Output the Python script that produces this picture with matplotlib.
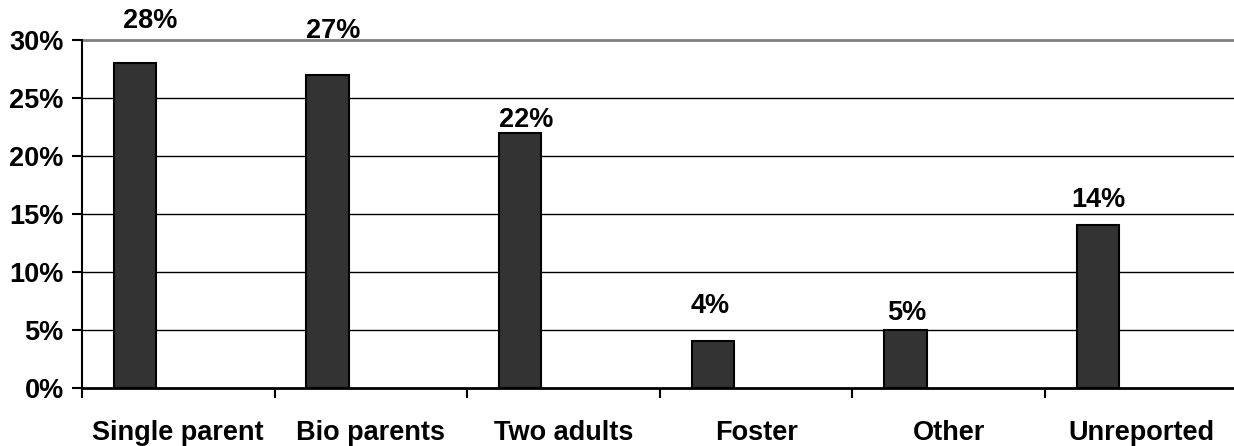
import matplotlib
matplotlib.use("Agg")
import matplotlib.pyplot as plt
from matplotlib.ticker import FixedLocator, FuncFormatter

categories = ["Single parent", "Bio parents", "Two adults", "Foster", "Other", "Unreported"]
shares = [28, 27, 22, 4, 5, 14]
y_ticks = [0, 5, 10, 15, 20, 25, 30]

# hand-placed value labels: (dx, dy) in points, baseline relative to the bar top centre
label_offsets = [(10.8, 25.2), (4.3, 26.5), (4.3, 4.1), (-2.2, 20.2), (0.7, 7.0), (0, 13.2)]

plt.rcParams["font.family"] = ["Liberation Sans", "DejaVu Sans"]
plt.rcParams["font.weight"] = "bold"
FS = 19.5

fig = plt.figure(figsize=(12.34, 4.46), dpi=100)
ax = fig.add_axes([82 / 1234, 1 - 387.7 / 446, 1 - 82 / 1234 + 0.003, (387.7 - 40) / 446])

xs = [i - 0.225 for i in range(len(categories))]
ax.bar(xs, shares, width=0.22, color="#333333", edgecolor="black", linewidth=1.5, zorder=3)

for x, v, (dx, dy) in zip(xs, shares, label_offsets):
    ax.annotate(f"{v}%", (x, v), xytext=(dx, dy), textcoords="offset points",
                ha="center", va="baseline", fontsize=FS, fontweight="bold", clip_on=False)

ax.set_xlim(-0.5, len(categories) - 0.5)
ax.set_ylim(0, 30)

for t in y_ticks[1:-1]:
    ax.axhline(t, color="black", linewidth=1.0, zorder=1)
ax.axhline(30, color="#808080", linewidth=2.0, zorder=1, clip_on=False)

ax.yaxis.set_major_locator(FixedLocator(y_ticks))
ax.yaxis.set_major_formatter(FuncFormatter(lambda v, p: f"{int(v)}%"))
ax.tick_params(axis="y", length=7.2, width=1.5, pad=6, labelsize=FS, direction="out")

ax.set_xticks(range(len(categories)))
ax.set_xticklabels(categories, fontsize=FS, fontweight="bold")
ax.set_xticks([i - 0.5 for i in range(len(categories) + 1)], minor=True)
ax.tick_params(axis="x", which="major", length=0, pad=23)
ax.tick_params(axis="x", which="minor", length=7.2, width=1.5, direction="out")

for side in ("top", "right"):
    ax.spines[side].set_visible(False)
ax.spines["left"].set_linewidth(1.5)
ax.spines["bottom"].set_linewidth(2.0)
ax.spines["bottom"].set_zorder(4)

fig.savefig("out.png", dpi=100)
